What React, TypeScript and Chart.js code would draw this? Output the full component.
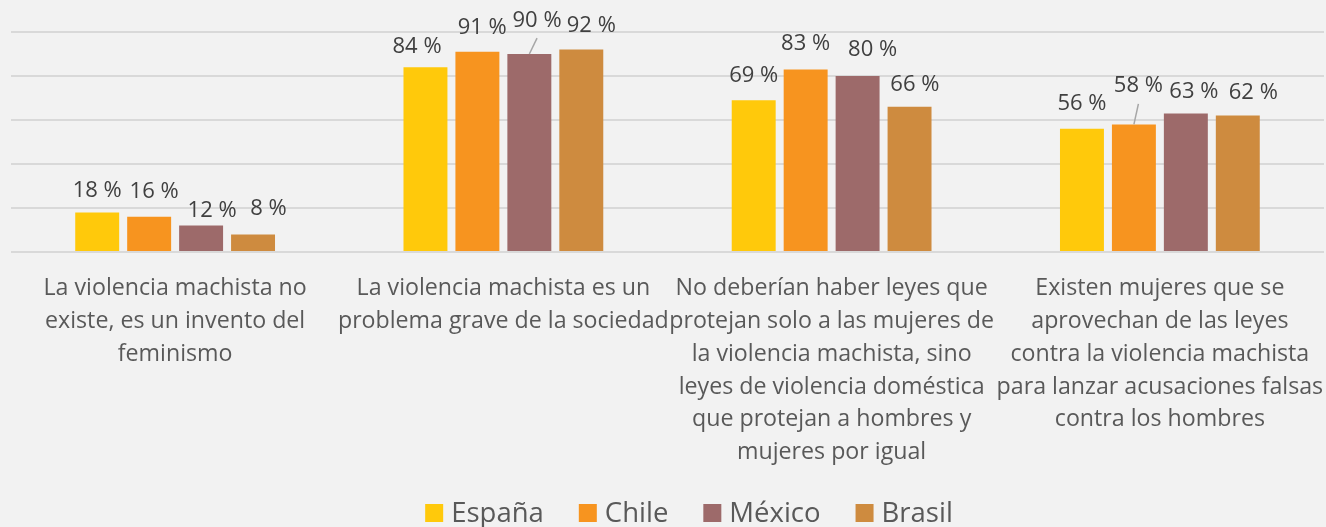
import React, { useEffect, useRef } from "react";
import { Chart, registerables } from "chart.js";

Chart.register(...registerables);

const categories: string[][] = [
  ["La violencia machista no", "existe, es un invento del", "feminismo"],
  ["La violencia machista es un", "problema grave de la sociedad"],
  [
    "No deberían haber leyes que",
    "protejan solo a las mujeres de",
    "la violencia machista, sino",
    "leyes de violencia doméstica",
    "que protejan a hombres y",
    "mujeres por igual",
  ],
  [
    "Existen mujeres que se",
    "aprovechan de las leyes",
    "contra la violencia machista",
    "para lanzar acusaciones falsas",
    "contra los hombres",
  ],
];

const seriesNames = ["España", "Chile", "México", "Brasil"];
const espana = [18, 84, 69, 56];
const chile = [16, 91, 83, 58];
const mexico = [12, 90, 80, 63];
const brasil = [8, 92, 66, 62];

const seriesColors = ["#FFC90B", "#F7941F", "#9D6A6A", "#CE8B3F"];

// label nudges (dx, dy of label centre relative to bar top centre), per series, per category
const labelNudges: number[][][] = [
  [[0, -23.5], [-8.4, -21.8], [0, -26], [0, -27]],
  [[5, -27], [4.8, -26], [0, -27.5], [4.5, -40]],
  [[11, -16.7], [7.7, -35.3], [15, -27.6], [8, -23.7]],
  [[15.5, -27.5], [10, -25.3], [5.3, -24], [15.5, -24.3]],
];

const FONT = "'Open Sans', 'DejaVu Sans', sans-serif";

const dataLabelPlugin = {
  id: "dataLabelPlugin",
  afterDatasetsDraw(chart: any) {
    const ctx = chart.ctx;
    ctx.save();
    ctx.font = `22px ${FONT}`;
    ctx.fillStyle = "#404040";
    ctx.textAlign = "center";
    ctx.textBaseline = "alphabetic";
    chart.data.datasets.forEach((ds: any, di: number) => {
      const meta = chart.getDatasetMeta(di);
      meta.data.forEach((bar: any, i: number) => {
        const [dx, dy] = labelNudges[di][i];
        const lx = bar.x + dx;
        const ly = bar.y + dy;
        ctx.fillText(`${ds.data[i]} %`, lx, ly + 8);
        if (dy < -30) {
          ctx.save();
          ctx.strokeStyle = "#A6A6A6";
          ctx.lineWidth = 1.5;
          ctx.beginPath();
          ctx.moveTo(lx, ly + 19.5);
          ctx.lineTo(bar.x, bar.y);
          ctx.stroke();
          ctx.restore();
        }
      });
    });
    ctx.restore();
  },
};

// legend drawn below the axis labels (Excel-style, slightly right of centre)
const legendPlugin = {
  id: "bottomLegend",
  afterDraw(chart: any) {
    const ctx = chart.ctx;
    ctx.save();
    ctx.font = `27.5px ${FONT}`;
    ctx.textBaseline = "middle";
    ctx.textAlign = "left";
    const box = 18;
    const gap = 8;
    const spacing = 35;
    const items = chart.data.datasets.map((ds: any) => ({
      text: ds.label,
      color: ds.backgroundColor,
      w: ctx.measureText(ds.label).width,
    }));
    const total =
      items.reduce((s: number, it: any) => s + box + gap + it.w, 0) +
      spacing * (items.length - 1);
    const centerX = chart.width / 2 + 26;
    const cy = 513;
    let x = centerX - total / 2;
    items.forEach((it: any) => {
      ctx.fillStyle = it.color;
      ctx.fillRect(x, cy - box / 2, box, box);
      ctx.fillStyle = "#595959";
      ctx.fillText(it.text, x + box + gap, cy + 1);
      x += box + gap + it.w + spacing;
    });
    ctx.restore();
  },
};

export default function App() {
  const ref = useRef<HTMLCanvasElement | null>(null);
  useEffect(() => {
    let chart: Chart | null = null;
    let cancelled = false;
    const build = () => {
      if (cancelled || !ref.current) return;
      const values = [espana, chile, mexico, brasil];
      chart = new Chart(ref.current, {
        type: "bar",
        data: {
          labels: categories,
          datasets: seriesNames.map((name, i) => ({
            label: name,
            data: values[i],
            backgroundColor: seriesColors[i],
            borderWidth: 0,
            categoryPercentage: 0.633,
            barPercentage: 0.846,
          })),
        },
        options: {
          animation: false,
          responsive: false,
          maintainAspectRatio: false,
          layout: {
            autoPadding: false,
            padding: { top: 32, right: 2, left: 0, bottom: 0 },
          },
          plugins: {
            legend: { display: false },
            tooltip: { enabled: false },
          },
          scales: {
            x: {
              grid: { display: false, drawTicks: false },
              border: { display: false },
              ticks: {
                font: { family: FONT, size: 23.2, lineHeight: 1.41 },
                color: "#595959",
                padding: 20.5,
                maxRotation: 0,
                minRotation: 0,
                autoSkip: false,
              },
              afterFit: (s: any) => {
                s.height = 275;
                s.paddingLeft = 0;
                s.paddingRight = 0;
              },
            },
            y: {
              min: 0,
              max: 100,
              ticks: { display: false, stepSize: 20 },
              border: { display: false },
              grid: { color: "#D9D9D9", lineWidth: 2, drawTicks: false },
              afterFit: (s: any) => {
                s.width = 11;
                s.paddingTop = 0;
                s.paddingBottom = 0;
              },
            },
          },
        },
        plugins: [dataLabelPlugin, legendPlugin],
      });
    };
    (document as any).fonts
      .load(`22px 'Open Sans'`)
      .then(build, build);
    return () => {
      cancelled = true;
      if (chart) chart.destroy();
    };
  }, []);
  return (
    <div
      style={{
        position: "fixed",
        left: 0,
        top: 0,
        width: 1326,
        height: 527,
        background: "#F2F2F2",
      }}
    >
      <canvas ref={ref} width={1326} height={527} style={{ display: "block" }} />
    </div>
  );
}
